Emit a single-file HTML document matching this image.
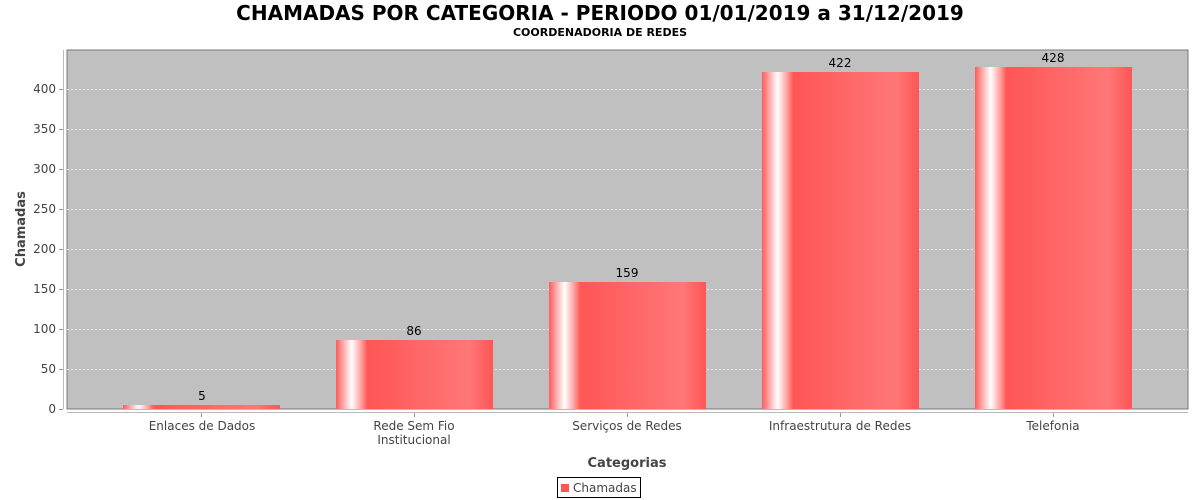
<!DOCTYPE html>
<html><head><meta charset="utf-8"><style>body{margin:0;background:#fff}svg{display:block}</style></head><body>
<svg width="1200" height="500" xmlns="http://www.w3.org/2000/svg" font-family="'DejaVu Sans', 'Liberation Sans', sans-serif">
<defs>
<linearGradient id="g" x1="0" x2="1" y1="0" y2="0">
<stop offset="0" stop-color="#ff5a5a"/>
<stop offset="0.05" stop-color="#ffb0b0"/>
<stop offset="0.1" stop-color="#ffffff"/>
<stop offset="0.16" stop-color="#ffa0a0"/>
<stop offset="0.2" stop-color="#ff5555"/>
<stop offset="0.85" stop-color="#ff7777"/>
<stop offset="1" stop-color="#ff5555"/>
</linearGradient>
</defs>
<text x="600" y="20" text-anchor="middle" font-size="20" font-weight="bold" fill="#000">CHAMADAS POR CATEGORIA - PERIODO 01/01/2019 a 31/12/2019</text>
<text x="600" y="36" text-anchor="middle" font-size="11" font-weight="bold" fill="#000">COORDENADORIA DE REDES</text>
<rect x="67" y="50" width="1121" height="359" fill="#c0c0c0" stroke="#777" stroke-width="1"/>
<g stroke="#e4e4e4" stroke-dasharray="2,2" stroke-width="1">
<line x1="67" x2="1188" y1="369.5" y2="369.5"/><line x1="67" x2="1188" y1="329.5" y2="329.5"/>
<line x1="67" x2="1188" y1="289.5" y2="289.5"/><line x1="67" x2="1188" y1="249.5" y2="249.5"/>
<line x1="67" x2="1188" y1="209.5" y2="209.5"/><line x1="67" x2="1188" y1="169.5" y2="169.5"/>
<line x1="67" x2="1188" y1="129.5" y2="129.5"/><line x1="67" x2="1188" y1="89.5" y2="89.5"/>
</g>
<line x1="63.5" x2="63.5" y1="50" y2="409" stroke="#bbb"/>
<line x1="67" x2="1188" y1="412.5" y2="412.5" stroke="#bbb"/>
<g font-size="12" fill="#444" text-anchor="end">
<text x="56" y="413">0</text><text x="56" y="373">50</text><text x="56" y="333">100</text><text x="56" y="293">150</text>
<text x="56" y="253">200</text><text x="56" y="213">250</text><text x="56" y="173">300</text><text x="56" y="133">350</text><text x="56" y="93">400</text>
</g>
<g stroke="#999"><line x1="59" x2="63" y1="409.5" y2="409.5"/><line x1="59" x2="63" y1="369.5" y2="369.5"/><line x1="59" x2="63" y1="329.5" y2="329.5"/><line x1="59" x2="63" y1="289.5" y2="289.5"/><line x1="59" x2="63" y1="249.5" y2="249.5"/><line x1="59" x2="63" y1="209.5" y2="209.5"/><line x1="59" x2="63" y1="169.5" y2="169.5"/><line x1="59" x2="63" y1="129.5" y2="129.5"/><line x1="59" x2="63" y1="89.5" y2="89.5"/></g>
<text transform="translate(25,229) rotate(-90)" text-anchor="middle" font-size="13" font-weight="bold" fill="#444">Chamadas</text>
<rect x="123" y="405" width="157" height="4" fill="url(#g)"/>
<rect x="336" y="340" width="157" height="69" fill="url(#g)"/>
<rect x="549" y="282" width="157" height="127" fill="url(#g)"/>
<rect x="762" y="72" width="157" height="337" fill="url(#g)"/>
<rect x="975" y="67" width="157" height="342" fill="url(#g)"/>
<g font-size="12" fill="#000" text-anchor="middle">
<text x="202" y="400">5</text><text x="414" y="335">86</text><text x="627" y="277">159</text><text x="840" y="67">422</text><text x="1053" y="62">428</text>
</g>
<g stroke="#999"><line x1="201.5" x2="201.5" y1="413" y2="417"/><line x1="414.5" x2="414.5" y1="413" y2="417"/><line x1="627.5" x2="627.5" y1="413" y2="417"/><line x1="840.5" x2="840.5" y1="413" y2="417"/><line x1="1053.5" x2="1053.5" y1="413" y2="417"/></g>
<g font-size="12" fill="#444" text-anchor="middle">
<text x="202" y="430">Enlaces de Dados</text><text x="414" y="430">Rede Sem Fio</text><text x="414" y="444">Institucional</text>
<text x="627" y="430">Serviços de Redes</text><text x="840" y="430">Infraestrutura de Redes</text><text x="1053" y="430">Telefonia</text>
</g>
<text x="627" y="467" text-anchor="middle" font-size="13" font-weight="bold" fill="#444">Categorias</text>
<rect x="557.5" y="477.5" width="83" height="20" fill="#fff" stroke="#000"/>
<rect x="561" y="484" width="8" height="8" fill="#ff5555"/>
<text x="573" y="492" font-size="12" fill="#444">Chamadas</text>
</svg>
</body></html>
